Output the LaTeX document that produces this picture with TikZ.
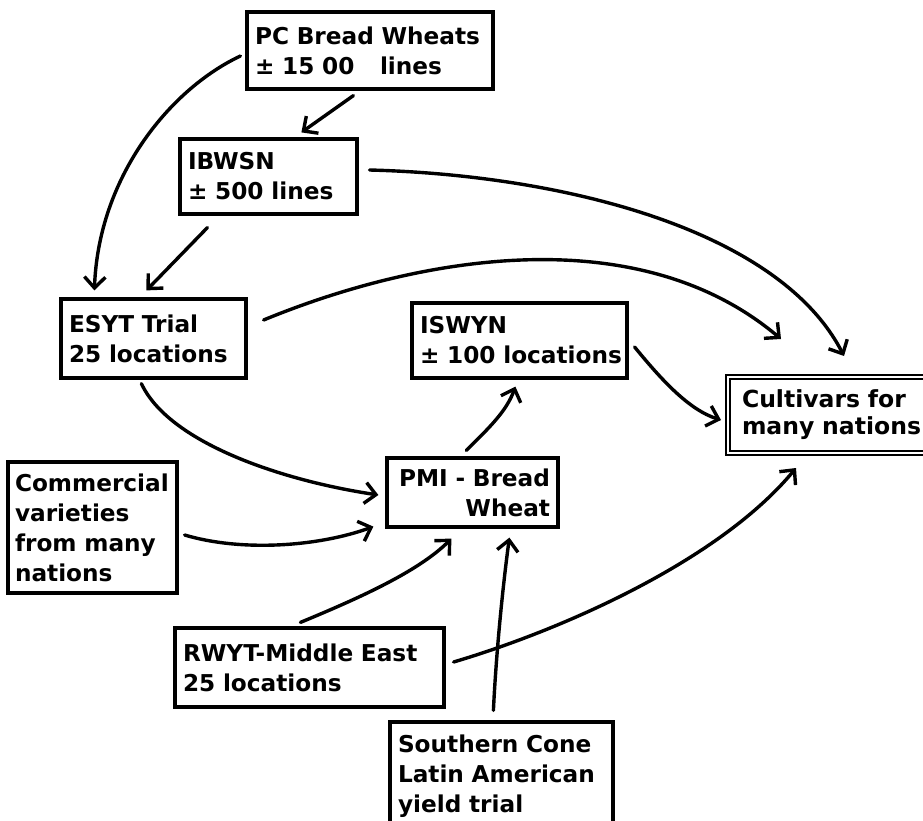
\documentclass[tikz,border=0pt]{standalone}
\usepackage{fontspec}
\setmainfont{DejaVu Sans}
\usetikzlibrary{arrows.meta,calc}
\begin{document}
\begin{tikzpicture}[x=1pt,y=-1pt,
  bx/.style={draw=black,line width=3.2pt,rectangle,inner xsep=8pt,inner ysep=0pt,align=left,
    font=\bfseries\fontsize{23.2}{30}\selectfont},
  conn/.style={line width=3.4pt,-{Straight Barb[length=11pt,width=21pt]},line cap=round}]
\useasboundingbox (0,0) rectangle (923,821);
\clip (0,0) rectangle (923,821);
\fill[white] (0,0) rectangle (923,821);
% boxes
\node[bx,minimum width=246pt,minimum height=77pt,text width=230pt] (pc) at (370,50.5) {\mbox{PC Bread Wheats}\\\mbox{± 15 00\hspace{1.1em}lines}};
\node[bx,minimum width=177pt,minimum height=75pt,text width=161pt] (ibwsn) at (268.5,176.5) {\mbox{IBWSN}\\\mbox{± 500 lines}};
\node[bx,minimum width=185pt,minimum height=79pt,text width=169pt] (esyt) at (153.5,338.5) {\mbox{ESYT Trial}\\\mbox{25 locations}};
\node[bx,minimum width=215pt,minimum height=75pt,text width=199pt,inner xsep=6pt] (iswyn) at (519.5,340.5) {\mbox{ISWYN}\\\mbox{± 100 locations}};
\node[bx,minimum width=169pt,minimum height=131pt,text width=155pt,inner xsep=7pt] (comm) at (92.5,527.5) {\mbox{Commercial}\\\mbox{varieties}\\\mbox{from many}\\\mbox{nations}};
\node[bx,align=right,minimum width=171pt,minimum height=69pt,text width=155pt] (pmi) at (472.5,492.5) {\mbox{PMI - Bread}\\\mbox{Wheat}};
\node[bx,line width=2pt,double,double distance=2.6pt,inner xsep=14pt,minimum width=207pt,minimum height=76pt,text width=179pt,font=\bfseries\fontsize{23.5}{27}\selectfont] (cult) at (831.5,415) {\mbox{Cultivars for}\\\mbox{many nations}};
\node[bx,minimum width=269pt,minimum height=79pt,text width=253pt] (rwyt) at (309.5,667.5) {\mbox{RWYT-Middle East}\\\mbox{25 locations}};
\node[bx,minimum width=223pt,minimum height=108pt,text width=207pt] (south) at (501.5,776) {\mbox{Southern Cone}\\\mbox{Latin American}\\\mbox{yield trial}};
% connectors
\draw[conn] ($(pc.west)+(-5,5.5)$) .. controls +(-72,34) and +(4,-112) .. ($(esyt.north west)+(35,-7)$);
\draw[conn] ($(pc.south west)+(108,5)$) -- ($(ibwsn.north west)+(123,-5)$);
\draw[conn] ($(ibwsn.south west)+(29,12)$) -- ($(esyt.north west)+(87,-7)$);
\draw[conn] ($(ibwsn.east)+(11,-6.5)$) .. controls +(192,5) and +(-65,-127) .. ($(cult.north west)+(117,-20)$);
\draw[conn] ($(esyt.east)+(16,-18.5)$) .. controls +(158,-65) and +(-142,-120) .. ($(cult.north west)+(54,-37)$);
\draw[conn] ($(esyt.south west)+(82,4)$) .. controls +(27,58) and +(-100,-15) .. ($(pmi.west)+(-7,2.5)$);
\draw[conn] ($(comm.east)+(6,7.5)$) .. controls +(57,17) and +(-55,20) .. ($(pmi.south west)+(-12,-2)$);
\draw[conn] ($(rwyt.north west)+(127,-4)$) .. controls +(58,-24) and +(-33,33) .. ($(pmi.south west)+(66,10)$);
\draw[conn] ($(south.north west)+(105,-10)$) .. controls +(3,-62) and +(-6,44) .. ($(pmi.south west)+(124,9)$);
\draw[conn] ($(rwyt.east)+(8,-5.5)$) .. controls +(108,-32) and +(-77,93) .. ($(cult.south west)+(69,14)$);
\draw[conn] ($(pmi.north west)+(81,-6)$) .. controls +(22,-22) and +(-9,25) .. ($(iswyn.south west)+(105,7)$);
\draw[conn] ($(iswyn.east)+(6,6.5)$) .. controls +(27,33) and +(-32,-10) .. ($(cult.west)+(-6,5)$);
\end{tikzpicture}
\end{document}
